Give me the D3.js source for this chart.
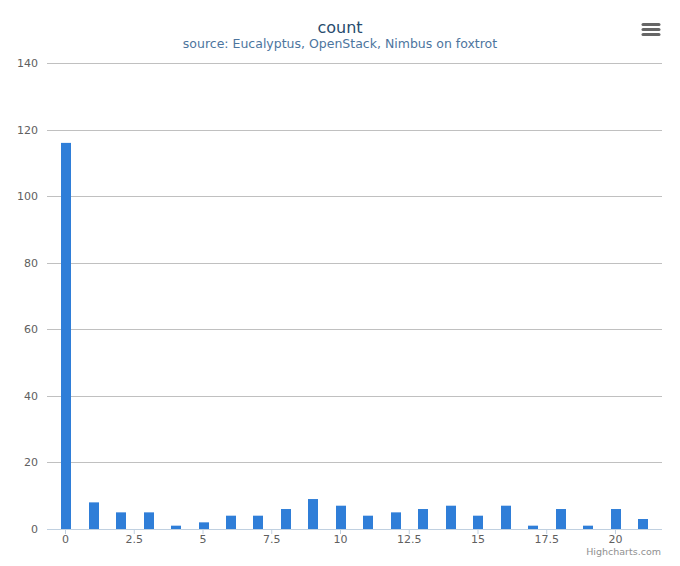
<!DOCTYPE html>
<html>
<head>
<meta charset="utf-8">
<script src="https://cdn.jsdelivr.net/npm/d3@7"></script>
<style>
  body { margin: 0; background: #fff; }
  text { font-family: "DejaVu Sans", Verdana, sans-serif; }
</style>
</head>
<body>
<div id="chart"></div>
<script>
// data
var categories = [0, 1, 2, 3, 4, 5, 6, 7, 8, 9, 10, 11, 12, 13, 14, 15, 16, 17, 18, 19, 20, 21];
var counts = [116, 8, 5, 5, 1, 2, 4, 4, 6, 9, 7, 4, 5, 6, 7, 4, 7, 1, 6, 1, 6, 3];
var yTicks = [0, 20, 40, 60, 80, 100, 120, 140];
var xTicks = [0, 2.5, 5, 7.5, 10, 12.5, 15, 17.5, 20];

var W = 680, H = 566;
var margin = { top: 63, right: 18, bottom: 37, left: 47 },
  width = W - margin.left - margin.right,
  height = H - margin.top - margin.bottom;

var svg = d3.select("#chart").append("svg")
  .attr("width", W)
  .attr("height", H);

// title + subtitle
svg.append("text")
  .attr("x", W / 2).attr("y", 33)
  .attr("text-anchor", "middle")
  .style("font-size", "16px")
  .style("fill", "#274b6d")
  .text("count");
svg.append("text")
  .attr("x", W / 2).attr("y", 47.5)
  .attr("text-anchor", "middle")
  .style("font-size", "12.5px")
  .style("fill", "#4d759e")
  .text("source: Eucalyptus, OpenStack, Nimbus on foxtrot");

// export menu icon
var menu = svg.append("g");
[24.5, 29.5, 34.5].forEach(function (yy) {
  menu.append("line")
    .attr("x1", 643).attr("x2", 659)
    .attr("y1", yy).attr("y2", yy)
    .attr("stroke", "#666")
    .attr("stroke-width", 3)
    .attr("stroke-linecap", "round");
});

var g = svg.append("g")
  .attr("transform", "translate(" + margin.left + "," + margin.top + ")");

var x = d3.scaleLinear().domain([-0.655, 21.71]).range([0, width]);
var y = d3.scaleLinear().domain([0, 140]).range([height, 0]);

// gridlines
g.append("g")
  .selectAll("line")
  .data(yTicks)
  .enter()
  .append("line")
  .attr("x1", 0).attr("x2", width)
  .attr("y1", function (d) { return Math.round(y(d)) + 0.5; })
  .attr("y2", function (d) { return Math.round(y(d)) + 0.5; })
  .attr("stroke", "#c0c0c0");

// y labels
g.append("g")
  .selectAll("text")
  .data(yTicks)
  .enter()
  .append("text")
  .attr("x", -9)
  .attr("y", function (d) { return y(d) + 4; })
  .attr("text-anchor", "end")
  .style("font-size", "11px")
  .style("fill", "#606060")
  .text(function (d) { return d; });

// bars
g.selectAll("rect.bar")
  .data(counts)
  .enter()
  .append("rect")
  .attr("class", "bar")
  .attr("x", function (d, i) { return Math.round(x(categories[i]) - 4); })
  .attr("y", function (d) { return y(d); })
  .attr("width", 10)
  .attr("height", function (d) { return height - y(d); })
  .attr("fill", "#2f7ed8");

// x axis
var xAxis = g.append("g")
  .attr("transform", "translate(0," + height + ")")
  .call(d3.axisBottom(x).tickValues(xTicks).tickSize(5)
    .tickFormat(function (d) { return d; }));
xAxis.select(".domain").attr("stroke", "#c0d0e0").attr("d", "M0,0.5H" + width);
xAxis.selectAll(".tick line").attr("stroke", "#c0d0e0");
xAxis.selectAll(".tick text")
  .attr("y", 14)
  .attr("dy", null)
  .style("font-size", "11px")
  .style("fill", "#606060")
  .style("font-family", "DejaVu Sans, Verdana, sans-serif");

// credits
svg.append("text")
  .attr("x", 661).attr("y", 555)
  .attr("text-anchor", "end")
  .style("font-size", "9.5px")
  .style("fill", "#909090")
  .text("Highcharts.com");
</script>
</body>
</html>
